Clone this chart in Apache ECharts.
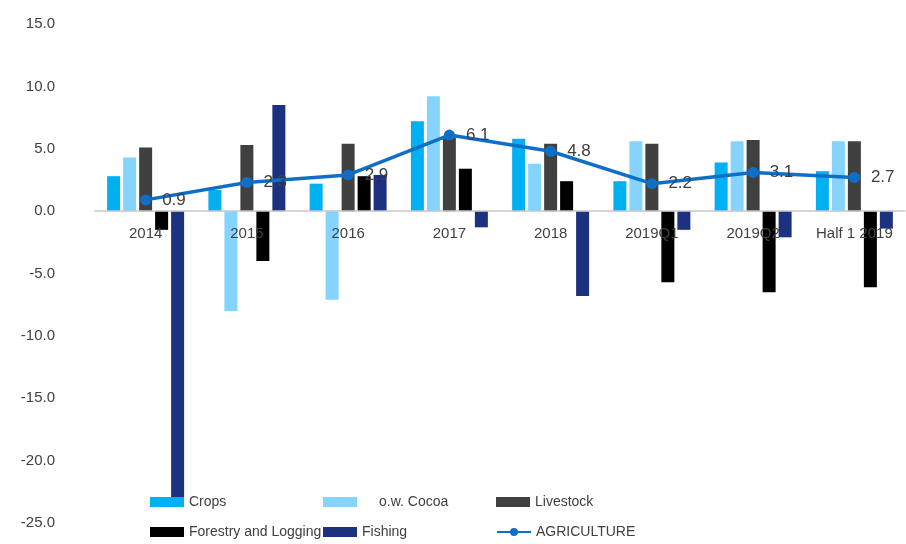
<!DOCTYPE html>
<html>
<head>
<meta charset="utf-8">
<title>Agriculture growth by sub-sector</title>
<script src="https://cdn.jsdelivr.net/npm/echarts@6/dist/echarts.min.js"></script>
<style>
  html, body { margin: 0; padding: 0; background: #ffffff; }
  #chart { width: 906px; height: 544px; }
</style>
</head>
<body>
<div id="chart"></div>
<script>
// Periods on the category axis
const categories = ['2014', '2015', '2016', '2017', '2018', '2019Q1', '2019Q2', 'Half 1 2019'];

// Growth rates (%) per sub-sector
const crops       = [2.8, 1.7, 2.2, 7.2, 5.8, 2.4, 3.9, 3.2];
const cocoa       = [4.3, -8.0, -7.1, 9.2, 3.8, 5.6, 5.6, 5.6];
const livestock   = [5.1, 5.3, 5.4, 5.9, 5.4, 5.4, 5.7, 5.6];
const forestry    = [-1.5, -4.0, 2.8, 3.4, 2.4, -5.7, -6.5, -6.1];
const fishing     = [-23.0, 8.5, 2.9, -1.3, -6.8, -1.5, -2.1, -1.4];
const agriculture = [0.9, 2.3, 2.9, 6.1, 4.8, 2.2, 3.1, 2.7];

// Value axis range and step
const yMin = -25, yMax = 15, yStep = 5;

const FONT = '"Liberation Sans", Arial, sans-serif';
const TEXT = '#404040';

// Plot area geometry
const GRID_TOP = 24, GRID_BOTTOM = 21, CHART_H = 544;
const plotH = CHART_H - GRID_TOP - GRID_BOTTOM;
// Distance from the bottom edge of the plot up to the zero line,
// so the category axis (line and labels) sits on y = 0.
const zeroLift = plotH * (0 - yMin) / (yMax - yMin);

function bar(name, data, color) {
  return {
    name: name,
    type: 'bar',
    data: data,
    barWidth: 13,
    barGap: '23%',
    itemStyle: { color: color }
  };
}

function legendAt(name, left, top, icon, extraText) {
  return {
    data: [{ name: name, icon: icon }],
    left: left,
    top: top,
    padding: 0,
    itemWidth: 34,
    itemHeight: 10,
    selectedMode: false,
    textStyle: Object.assign({ fontFamily: FONT, fontSize: 14, color: TEXT }, extraText || {})
  };
}

const chart = echarts.init(document.getElementById('chart'), null, { renderer: 'canvas' });

chart.setOption({
  animation: false,
  backgroundColor: '#ffffff',
  grid: {
    left: 95, right: 1, top: GRID_TOP, bottom: GRID_BOTTOM,
    containLabel: false, outerBoundsMode: 'none'
  },
  xAxis: {
    type: 'category',
    data: categories,
    position: 'bottom',
    offset: -zeroLift,
    axisLine: { onZero: false, lineStyle: { color: '#c8c8c8', width: 1.5 } },
    axisTick: { show: false },
    axisLabel: { fontFamily: FONT, fontSize: 15, color: TEXT, margin: 15 },
    splitLine: { show: false },
    z: 5
  },
  yAxis: {
    type: 'value',
    min: yMin,
    max: yMax,
    interval: yStep,
    axisLine: { show: false },
    axisTick: { show: false },
    splitLine: { show: false },
    axisLabel: {
      fontFamily: FONT, fontSize: 15, color: TEXT, margin: 40,
      formatter: v => v.toFixed(1)
    }
  },
  legend: [
    legendAt('Crops', 150, 495, 'rect'),
    legendAt('o.w. Cocoa', 323, 495, 'rect', { padding: [0, 0, 0, 17] }),
    legendAt('Livestock', 496, 495, 'rect'),
    legendAt('Forestry and Logging', 150, 525, 'rect'),
    legendAt('Fishing', 323, 525, 'rect'),
    legendAt('AGRICULTURE', 496, 525)
  ],
  series: [
    bar('Crops', crops, '#00B0F0'),
    bar('o.w. Cocoa', cocoa, '#85D4FF'),
    bar('Livestock', livestock, '#404040'),
    bar('Forestry and Logging', forestry, '#000000'),
    bar('Fishing', fishing, '#1C3281'),
    {
      name: 'AGRICULTURE',
      type: 'line',
      data: agriculture,
      symbol: 'circle',
      symbolSize: 11,
      lineStyle: { color: '#0F6FC6', width: 3.5 },
      itemStyle: { color: '#0F6FC6' },
      z: 4,
      label: {
        show: true,
        position: 'right',
        distance: 11,
        fontFamily: FONT,
        fontSize: 17,
        color: TEXT,
        formatter: p => p.value.toFixed(1)
      }
    }
  ]
});
</script>
</body>
</html>
